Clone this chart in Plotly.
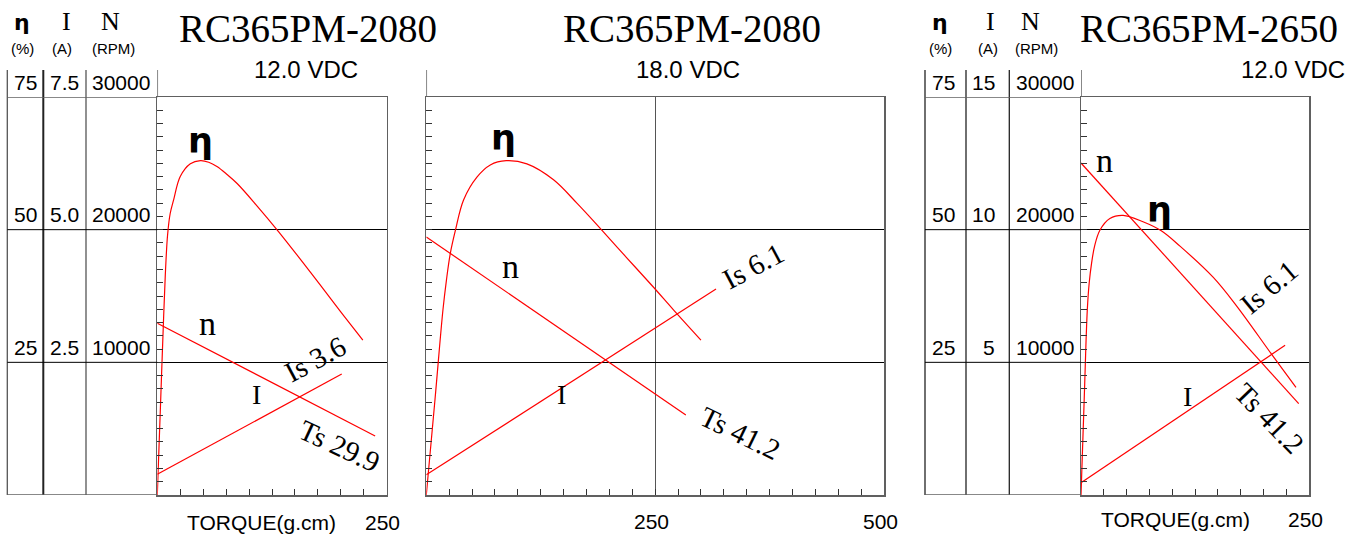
import plotly.graph_objects as go

W, H = 1364, 536

# ---------------- data ----------------
# Panel 1: RC365PM-2080 @ 12.0 VDC, torque in g.cm
p1_speed_torque = [0, 237.4]
p1_speed_rpm = [12950, 4450]
p1_cur_torque = [0, 201]
p1_cur_amp = [0.39, 2.28]
p1_eff_torque = [0, 3.5, 7, 9, 11.2, 14, 17.8, 25, 36, 47, 56, 65, 76, 87, 108.6, 132.3, 166.8, 199.5, 224]
p1_eff_pct = [0, 17, 34, 42.5, 49.0, 53.0, 55.6, 60, 62.4, 63, 62.7, 61.9, 60.4, 58.7, 54.5, 49.6, 42.0, 34.6, 29.2]

# Panel 2: RC365PM-2080 @ 18.0 VDC
p2_speed_torque = [0, 283.5]
p2_speed_rpm = [19450, 6030]
p2_cur_torque = [0, 316.5]
p2_cur_amp = [0.38, 3.88]
p2_eff_torque = [0, 9.5, 18.2, 22, 26.2, 31.7, 40.7, 55.3, 69.9, 87.3, 109.9, 139, 164.5, 190, 219, 248, 270, 300]
p2_eff_pct = [0, 18, 34.9, 40.5, 45.5, 49.8, 55.6, 59.9, 62.2, 63, 62.4, 59.4, 55, 50.25, 44.7, 39.2, 34.9, 29.2]

# Panel 3: RC365PM-2650 @ 12.0 VDC
p3_speed_torque = [0, 238.4]
p3_speed_rpm = [25025, 6890]
p3_cur_torque = [0, 223.5]
p3_cur_amp = [0.46, 5.64]
p3_eff_torque = [0, 3.5, 6.9, 9, 11.6, 15, 20.7, 31.6, 46.1, 67.9, 87.9, 108.4, 144.9, 170.5, 208.8, 235.4]
p3_eff_pct = [0, 18, 34.9, 40, 43.7, 47, 49.9, 52.1, 52.7, 51.5, 49.8, 46.9, 41.0, 35.6, 26.5, 20.3]

# axis tick labels
rpm_ticks = [10000, 20000, 30000]
rpm_ticklabels = ["10000", "20000", "30000"]
eff_ticks = [25, 50, 75]
eff_ticklabels = ["25", "50", "75"]
p1_cur_ticks = [2.5, 5.0, 7.5]
p1_cur_ticklabels = ["2.5", "5.0", "7.5"]
p3_cur_ticks = [5, 10, 15]
p3_cur_ticklabels = ["5", "10", "15"]

titles = ["RC365PM-2080", "RC365PM-2080", "RC365PM-2650"]
voltages = ["12.0 VDC", "18.0 VDC", "12.0 VDC"]

# curve labels: (text, torque, rpm, angle, font size)
p1_labels = [("n", 54.2, 12950, 0, 34), ("I", 108.4, 7540, 0, 28),
             ("Is 3.6", 172, 10250, -28, 29), ("Ts 29.9", 199, 3700, 25, 29)]
p2_labels = [("n", 91.7, 17200, 0, 34), ("I", 147.4, 7540, 0, 28),
             ("Is 6.1", 357, 17250, -28, 29), ("Ts 41.2", 343, 4700, 26, 29)]
p3_labels = [("n", 26.2, 25250, 0, 34), ("I", 116.7, 7400, 0, 28),
             ("Is 6.1", 206, 15650, -40, 29), ("Ts 41.2", 206, 5800, 46, 29)]
eta_pos = [(46.6, 26700), (84, 26900), (86.1, 21450)]

# ---------------- layout helpers ----------------
SANS = "Liberation Sans, Arial, sans-serif"
SERIF = "Liberation Serif, Times New Roman, serif"
BOLD = "DejaVu Sans, Liberation Sans, sans-serif"
RED = "#ff0000"
FRAME = "#606060"


def px(x):
    return x / W


def py(y):
    return 1 - y / H


def ann(**kw):
    d = dict(showarrow=False, xanchor="center", yanchor="middle")
    d.update(kw)
    return d


Y_DOM = [py(495), py(97)]
panels = [
    dict(xd=[px(157.3), px(386.7)], xr=[0, 250], xdt=25, grid=False, cur_max=7.5),
    dict(xd=[px(426.3), px(884)], xr=[0, 500], xdt=25, grid=True, cur_max=7.5),
    dict(xd=[px(1081), px(1309.3)], xr=[0, 250], xdt=25, grid=False, cur_max=15),
]
data_sets = [
    (p1_speed_torque, p1_speed_rpm, p1_cur_torque, p1_cur_amp, p1_eff_torque, p1_eff_pct),
    (p2_speed_torque, p2_speed_rpm, p2_cur_torque, p2_cur_amp, p2_eff_torque, p2_eff_pct),
    (p3_speed_torque, p3_speed_rpm, p3_cur_torque, p3_cur_amp, p3_eff_torque, p3_eff_pct),
]

fig = go.Figure()
layout = dict(width=W, height=H, margin=dict(l=0, r=0, t=0, b=0),
              paper_bgcolor="white", plot_bgcolor="white", showlegend=False)

annotations = []
shapes = []

for i, (pan, ds) in enumerate(zip(panels, data_sets)):
    xn = "x" if i == 0 else f"x{i + 1}"
    yb = 3 * i + 1
    yn = ["y" if yb == 1 else f"y{yb}", f"y{yb + 1}", f"y{yb + 2}"]
    xkey = "xaxis" if i == 0 else f"xaxis{i + 1}"
    ykeys = ["yaxis" if yb == 1 else f"yaxis{yb}", f"yaxis{yb + 1}", f"yaxis{yb + 2}"]

    layout[xkey] = dict(domain=pan["xd"], range=pan["xr"], anchor=yn[0],
                        showline=True, mirror=True, linecolor=FRAME, linewidth=1.5,
                        ticks="inside", ticklen=6, tickcolor="#333", tickwidth=1,
                        dtick=250 if pan["grid"] else pan["xdt"],
                        showgrid=pan["grid"], gridcolor="#555", gridwidth=1.2,
                        minor=dict(dtick=pan["xdt"], ticks="inside", ticklen=6,
                                   tickcolor="#333", showgrid=False),
                        showticklabels=False, zeroline=False, fixedrange=True)
    layout[ykeys[0]] = dict(domain=Y_DOM, range=[0, 30000], anchor=xn,
                            showline=True, mirror=True, linecolor=FRAME, linewidth=1.5,
                            ticks="inside", ticklen=6, tickcolor="#333", dtick=10000,
                            showgrid=True, gridcolor="#000", gridwidth=1,
                            minor=dict(dtick=1000, ticks="inside", ticklen=6,
                                       tickcolor="#333", showgrid=False),
                            showticklabels=False, zeroline=False, fixedrange=True)
    layout[ykeys[1]] = dict(range=[0, pan["cur_max"]], overlaying=yn[0], anchor=xn,
                            visible=False, fixedrange=True)
    layout[ykeys[2]] = dict(range=[0, 75], overlaying=yn[0], anchor=xn,
                            visible=False, fixedrange=True)

    st, sr, ct, ca, et, ep = ds
    fig.add_trace(go.Scatter(x=st, y=sr, mode="lines", xaxis=xn, yaxis=yn[0],
                             line=dict(color=RED, width=1.2), hoverinfo="skip"))
    fig.add_trace(go.Scatter(x=ct, y=ca, mode="lines", xaxis=xn, yaxis=yn[1],
                             line=dict(color=RED, width=1.2), hoverinfo="skip"))
    fig.add_trace(go.Scatter(x=et, y=ep, mode="lines", xaxis=xn, yaxis=yn[2],
                             line=dict(color=RED, width=1.2, shape="spline", smoothing=1.0),
                             hoverinfo="skip"))

    # vertical axis line extended above the plot
    shapes.append(dict(type="line", xref=xn, yref="paper", x0=0, x1=0,
                       y0=py(97), y1=py(70), line=dict(color=FRAME, width=1.5)))

    # curve labels
    labels = [p1_labels, p2_labels, p3_labels][i]
    for txt, tx, ty, ang, fs in labels:
        annotations.append(ann(xref=xn, yref=yn[0], x=tx, y=ty, text=txt, textangle=ang,
                               font=dict(family=SERIF, size=fs, color="black")))
    ex, ey = eta_pos[i]
    annotations.append(ann(xref=xn, yref=yn[0], x=ex, y=ey, text="<b>η</b>",
                           font=dict(family=BOLD, size=35, color="black")))

# ---------- left value columns (panels 1 and 3) ----------
col_sets = [
    dict(cols=[7.3, 43.3, 86], ax="x", y=["y", "y2", "y3"], cur_t=p1_cur_ticks,
         cur_l=p1_cur_ticklabels, cx=[25.5, 64, 121], cur_anchor="center",
         hdr_x=[22, 66.5, 110], unit_x=[22, 62, 113.3]),
    dict(cols=[925, 966, 1009.3], ax="x3", y=["y7", "y8", "y9"], cur_t=p3_cur_ticks,
         cur_l=p3_cur_ticklabels, cx=[943, 997, 1045], cur_anchor="right",
         hdr_x=[940, 990, 1030], unit_x=[940.7, 988, 1036.7]),
]
for k, cs in enumerate(col_sets):
    x_left = cs["cols"][0]
    axis_left = panels[0 if k == 0 else 2]["xd"][0]
    for j, cx in enumerate(cs["cols"]):
        thick = (k == 0 and j == 1)
        shapes.append(dict(type="line", xref="paper", yref="paper", x0=px(cx), x1=px(cx),
                           y0=Y_DOM[0], y1=py(70),
                           line=dict(color="#222" if (thick or k == 1) else "#555",
                                     width=2 if thick else 1.3)))
    for v in [0] + rpm_ticks:
        edge = v in (0, 30000)
        shapes.append(dict(type="line", xref="paper", yref=cs["y"][0], x0=px(x_left),
                           x1=axis_left, y0=v, y1=v,
                           line=dict(color=FRAME if edge else "#000",
                                     width=1.5 if edge else 1)))
    # tick labels
    for v, t in zip(eff_ticks, eff_ticklabels):
        annotations.append(ann(xref="paper", yref=cs["y"][2], x=px(cs["cx"][0]), y=v, text=t,
                               yshift=15, font=dict(family=SANS, size=21, color="black")))
    for v, t in zip(cs["cur_t"], cs["cur_l"]):
        annotations.append(ann(xref="paper", yref=cs["y"][1], x=px(cs["cx"][1]), y=v, text=t,
                               yshift=15, xanchor=cs["cur_anchor"],
                               font=dict(family=SANS, size=21, color="black")))
    for v, t in zip(rpm_ticks, rpm_ticklabels):
        annotations.append(ann(xref="paper", yref=cs["y"][0], x=px(cs["cx"][2]), y=v, text=t,
                               yshift=15, font=dict(family=SANS, size=21, color="black")))
    # column headers
    hx = cs["hdr_x"]
    annotations.append(ann(xref="paper", yref="paper", x=px(hx[0]), y=py(23), text="<b>η</b>",
                           font=dict(family=BOLD, size=22, color="black")))
    annotations.append(ann(xref="paper", yref="paper", x=px(hx[1]), y=py(22), text="I",
                           font=dict(family=SERIF, size=26, color="black")))
    annotations.append(ann(xref="paper", yref="paper", x=px(hx[2]), y=py(22), text="N",
                           font=dict(family=SERIF, size=26, color="black")))
    for ux, ut in zip(cs["unit_x"], ["(%)", "(A)", "(RPM)"]):
        annotations.append(ann(xref="paper", yref="paper", x=px(ux), y=py(48), text=ut,
                               font=dict(family=SANS, size=15, color="black")))

# ---------- titles ----------
title_pos = [(308.3, 28), (692, 28), (1209, 29)]
volt_pos = [(306, 69, "center"), (688, 69, "center"), (1347, 69, "right")]
for t, (tx, ty), v, (vx, vy, va) in zip(titles, title_pos, voltages, volt_pos):
    annotations.append(ann(xref="paper", yref="paper", x=px(tx), y=py(ty), text=t,
                           font=dict(family=SERIF, size=39, color="black")))
    annotations.append(ann(xref="paper", yref="paper", x=px(vx), y=py(vy), text=v,
                           xanchor=va, font=dict(family=SANS, size=24, color="black")))

# ---------- torque axis labels ----------
annotations.append(ann(xref="paper", yref="paper", x=px(261.7), y=py(522), text="TORQUE(g.cm)",
                       font=dict(family=SANS, size=21, color="black")))
annotations.append(ann(xref="paper", yref="paper", x=px(1175), y=py(519), text="TORQUE(g.cm)",
                       font=dict(family=SANS, size=21, color="black")))
for xr, val, yy in [("x", 250, 522), ("x2", 250, 521), ("x2", 500, 521), ("x3", 250, 519)]:
    annotations.append(ann(xref=xr, yref="paper", x=val, y=py(yy), text=str(val),
                           xshift=-4, font=dict(family=SANS, size=21, color="black")))

layout["annotations"] = annotations
layout["shapes"] = shapes
fig.update_layout(**layout)

fig.write_html("out.html", config={"displayModeBar": False, "staticPlot": True},
               post_script="document.body.style.margin='0';")
